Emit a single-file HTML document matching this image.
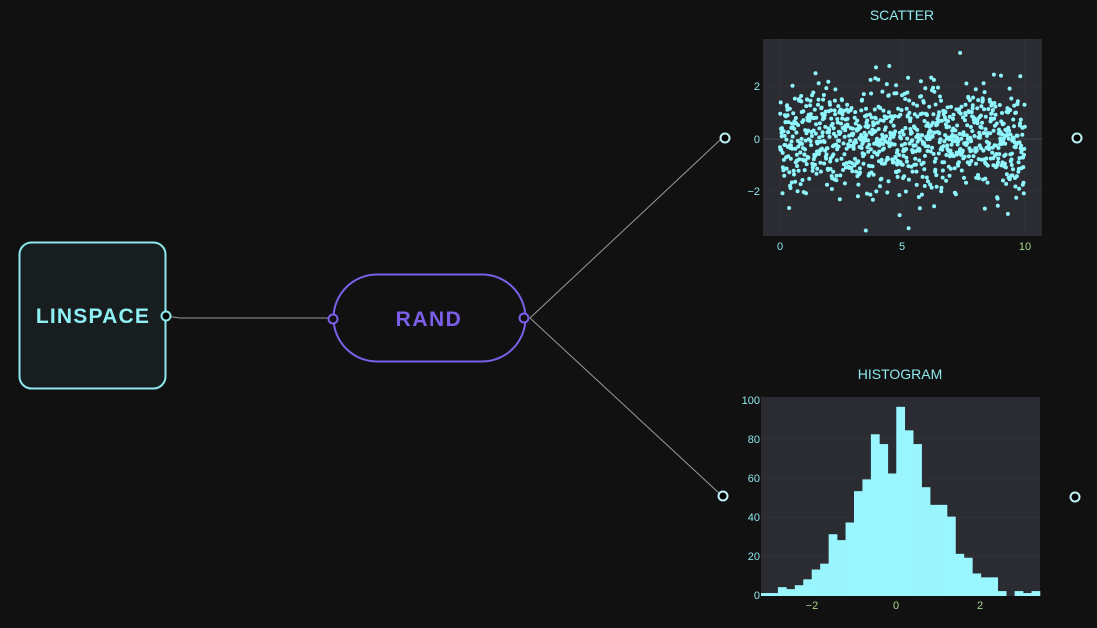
<!DOCTYPE html>
<html><head><meta charset="utf-8"><style>
html,body{margin:0;padding:0;background:#111111;}
svg{display:block;}
text{font-family:"Liberation Sans","DejaVu Sans",sans-serif;}
</style></head><body>
<svg id="s" width="1097" height="628" viewBox="0 0 1097 628" xmlns="http://www.w3.org/2000/svg">
<rect width="1097" height="628" fill="#111111"/>
<g stroke="#9a9a9a" stroke-width="1" fill="none">
<path d="M166 316 L180 318 L330 318"/>
<path d="M530 318 L720 140"/>
<path d="M530 318 L720 494"/>
</g>
<rect x="19.5" y="242.5" width="146" height="146" rx="12" fill="#181d1f" stroke="#8ee8ee" stroke-width="2"/>
<text x="93" y="323" text-anchor="middle" font-size="21" font-weight="bold" fill="#8ef0f4" letter-spacing="1.2">LINSPACE</text>
<circle cx="166" cy="316" r="4.5" fill="#000" stroke="#8ee8ee" stroke-width="2"/>
<rect x="333.5" y="274.5" width="192" height="87" rx="43.5" fill="#111" stroke="#7b5fe8" stroke-width="2"/>
<text x="429" y="326" text-anchor="middle" font-size="21" font-weight="bold" fill="#7b5fe8" letter-spacing="1.5">RAND</text>
<circle cx="333" cy="319" r="4.5" fill="#111" stroke="#7b5fe8" stroke-width="2"/>
<circle cx="524" cy="318" r="4.5" fill="#111" stroke="#7b5fe8" stroke-width="2"/>
<g fill="#000" stroke="#bff4f6" stroke-width="2">
<circle cx="725" cy="138" r="4.5"/><circle cx="1077" cy="138" r="4.5"/>
<circle cx="723" cy="496" r="4.5"/><circle cx="1075" cy="497" r="4.5"/>
</g>
<text x="902" y="20" text-anchor="middle" font-size="14" fill="#8ee8ee">SCATTER</text>
<rect x="763" y="39" width="279" height="197" fill="#2b2c32"/>
<g stroke="#313238" stroke-width="1"><line x1="763" y1="86" x2="1042" y2="86"/><line x1="763" y1="191" x2="1042" y2="191"/><line x1="780" y1="39" x2="780" y2="236"/><line x1="902" y1="39" x2="902" y2="236"/><line x1="1025" y1="39" x2="1025" y2="236"/></g>
<line x1="763" y1="139" x2="1042" y2="139" stroke="#45464d"/>
<g id="pts" fill="#8ef6fc"></g>
<g font-size="11" fill="#8ee8ee">
<text x="760" y="90" text-anchor="end">2</text><text x="760" y="143" text-anchor="end">0</text><text x="760" y="195" text-anchor="end">−2</text>
</g>
<g font-size="11" fill="#a8d88a" text-anchor="middle">
<text x="780" y="250" fill="#8ee8ee">0</text><text x="902" y="250" fill="#8ee8ee">5</text><text x="1025" y="250">10</text>
</g>
<text x="900" y="379" text-anchor="middle" font-size="14" fill="#8ee8ee">HISTOGRAM</text>
<rect x="761" y="397" width="279" height="199" fill="#2b2c32"/>
<g stroke="#313238"><line x1="761" y1="556" x2="1040" y2="556"/><line x1="761" y1="517" x2="1040" y2="517"/><line x1="761" y1="478" x2="1040" y2="478"/><line x1="761" y1="439" x2="1040" y2="439"/></g>
<g id="bars" fill="#9af6fe"></g>
<g font-size="11" fill="#8ee8ee" text-anchor="end">
<text x="760" y="404">100</text><text x="760" y="443">80</text><text x="760" y="482">60</text><text x="760" y="521">40</text><text x="760" y="560">20</text><text x="760" y="599">0</text>
</g>
<g font-size="11" fill="#a8d88a" text-anchor="middle">
<text x="812" y="609">−2</text><text x="896" y="609">0</text><text x="980" y="609">2</text>
</g>
</svg>
<script>
var NS="http://www.w3.org/2000/svg";
var b=[1,1,4,3,5,8,13,16,31,28,37,53,59,82,77,62,96,84,77,55,46,46,40,21,19,11,9,9,2,0,2,1,2];
var g=document.getElementById("bars"),w=279/33;
b.forEach(function(v,i){if(!v)return;var r=document.createElementNS(NS,"rect");var h=v*1.96;
r.setAttribute("x",(761+i*w).toFixed(2));r.setAttribute("width",(w+0.3).toFixed(2));
r.setAttribute("y",(595-h).toFixed(2));r.setAttribute("height",(h+1).toFixed(2));g.appendChild(r);});
var s=12345;function rnd(){s=(s*1103515245+12345)%2147483648;return s/2147483648;}
var p=document.getElementById("pts");
for(var i=0;i<1000;i++){var x=i/100;var u=rnd()||1e-6,v=rnd();var y=Math.sqrt(-2*Math.log(u))*Math.cos(2*Math.PI*v);
var c=document.createElementNS(NS,"circle");c.setAttribute("cx",(780+x*24.5).toFixed(1));
c.setAttribute("cy",(139-y*26.3).toFixed(1));c.setAttribute("r","2");p.appendChild(c);}
</script>
</body></html>
